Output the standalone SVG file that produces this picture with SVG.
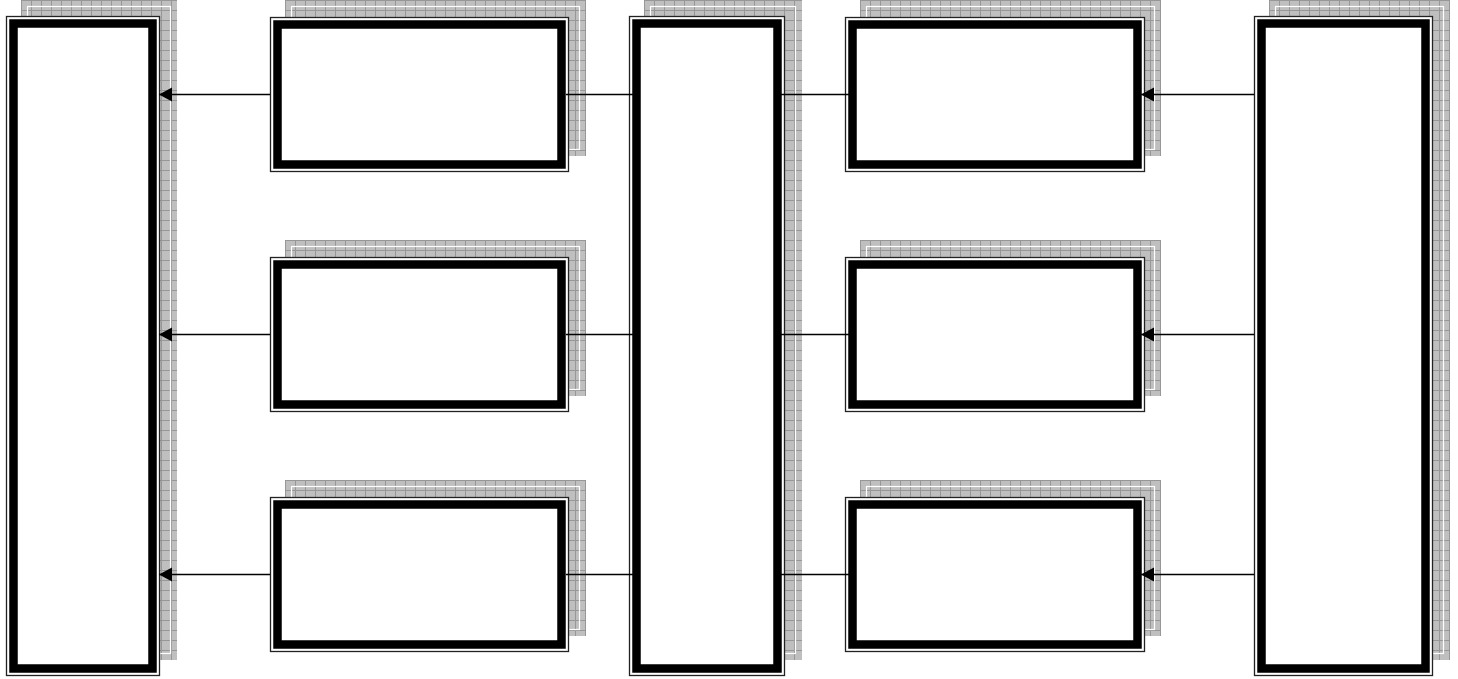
<svg xmlns="http://www.w3.org/2000/svg" width="1458" height="679" viewBox="0 0 1458 679">
<style>
.outer{fill:#fff;stroke:#222;stroke-width:1.3}
.thick{fill:#fff;stroke:#000;stroke-width:8.5}
.sh{fill:url(#grid)}
.shl{fill:none;stroke:#fff;stroke-width:1.2}
.conn{fill:none;stroke:#000;stroke-width:1.6}
</style>
<defs>
<pattern id="grid" width="10" height="10" patternUnits="userSpaceOnUse">
<rect width="10" height="10" fill="#bfbfbf"/>
<path d="M0 0.5H10M0.5 0V10" stroke="#979797" stroke-width="1"/>
</pattern>
<marker id="ah" markerUnits="userSpaceOnUse" markerWidth="14" markerHeight="16" viewBox="0 -8 14 16" refX="13" refY="0" orient="auto">
<path d="M0,-7 L13,0 L0,7 z" fill="#000"/>
</marker>
</defs>
<rect width="1458" height="679" fill="#fff"/>

<g id="node-left">
<g transform="translate(21,0)"><rect class="sh" width="156" height="660"/><rect class="shl" x="6.5" y="6.5" width="143" height="647"/></g>
<rect class="outer" x="6.5" y="16.5" width="153" height="659"/>
<rect class="thick" x="13.5" y="23.5" width="139" height="645"/>
</g>

<g id="node-center">
<g transform="translate(644,0)"><rect class="sh" width="158" height="660"/><rect class="shl" x="6.5" y="6.5" width="145" height="647"/></g>
<rect class="outer" x="629.5" y="16.5" width="155" height="659"/>
<rect class="thick" x="636.5" y="23.5" width="141" height="645"/>
</g>

<g id="node-right">
<g transform="translate(1269,0)"><rect class="sh" width="181" height="660"/><rect class="shl" x="6.5" y="6.5" width="168" height="647"/></g>
<rect class="outer" x="1254.5" y="16.5" width="178" height="659"/>
<rect class="thick" x="1261.5" y="23.5" width="164" height="645"/>
</g>

<g id="box-l1">
<g transform="translate(285,0)"><rect class="sh" width="301" height="156"/><rect class="shl" x="6.5" y="6.5" width="288" height="143"/></g>
<rect class="outer" x="270.5" y="17.5" width="298" height="154"/>
<rect class="thick" x="277.5" y="24.5" width="284" height="140"/>
</g>
<g id="box-l2">
<g transform="translate(285,240)"><rect class="sh" width="301" height="156"/><rect class="shl" x="6.5" y="6.5" width="288" height="143"/></g>
<rect class="outer" x="270.5" y="257.5" width="298" height="154"/>
<rect class="thick" x="277.5" y="264.5" width="284" height="140"/>
</g>
<g id="box-l3">
<g transform="translate(285,480)"><rect class="sh" width="301" height="156"/><rect class="shl" x="6.5" y="6.5" width="288" height="143"/></g>
<rect class="outer" x="270.5" y="497.5" width="298" height="154"/>
<rect class="thick" x="277.5" y="504.5" width="284" height="140"/>
</g>

<g id="box-r1">
<g transform="translate(860,0)"><rect class="sh" width="301" height="156"/><rect class="shl" x="6.5" y="6.5" width="288" height="143"/></g>
<rect class="outer" x="845.5" y="17.5" width="299" height="154"/>
<rect class="thick" x="852.5" y="24.5" width="285" height="140"/>
</g>
<g id="box-r2">
<g transform="translate(860,240)"><rect class="sh" width="301" height="156"/><rect class="shl" x="6.5" y="6.5" width="288" height="143"/></g>
<rect class="outer" x="845.5" y="257.5" width="299" height="154"/>
<rect class="thick" x="852.5" y="264.5" width="285" height="140"/>
</g>
<g id="box-r3">
<g transform="translate(860,480)"><rect class="sh" width="301" height="156"/><rect class="shl" x="6.5" y="6.5" width="288" height="143"/></g>
<rect class="outer" x="845.5" y="497.5" width="299" height="154"/>
<rect class="thick" x="852.5" y="504.5" width="285" height="140"/>
</g>

<g id="connectors">
<path class="conn" d="M270 94.5H159" marker-end="url(#ah)"/>
<path class="conn" d="M270 334.5H159" marker-end="url(#ah)"/>
<path class="conn" d="M270 574.5H159" marker-end="url(#ah)"/>
<path class="conn" d="M566 94.5H634"/>
<path class="conn" d="M566 334.5H634"/>
<path class="conn" d="M566 574.5H634"/>
<path class="conn" d="M781 94.5H850"/>
<path class="conn" d="M781 334.5H850"/>
<path class="conn" d="M781 574.5H850"/>
<path class="conn" d="M1254 94.5H1141" marker-end="url(#ah)"/>
<path class="conn" d="M1254 334.5H1141" marker-end="url(#ah)"/>
<path class="conn" d="M1254 574.5H1141" marker-end="url(#ah)"/>
</g>
</svg>
